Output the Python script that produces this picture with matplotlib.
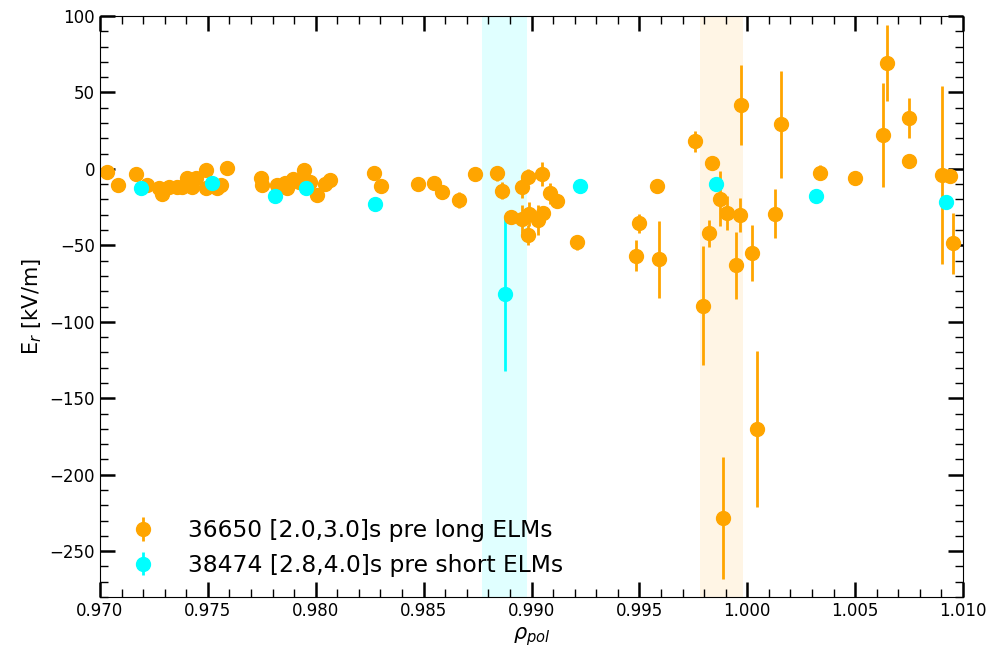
import matplotlib
matplotlib.use("Agg")
import matplotlib.pyplot as plt
from matplotlib.ticker import MultipleLocator

# 36650 [2.0,3.0]s pre long ELMs
rho_long = [0.97034, 0.97085, 0.97167, 0.97216, 0.97275, 0.97288, 0.97320, 0.97355,
            0.97381, 0.97401, 0.97427, 0.97445, 0.97491, 0.97493, 0.97540, 0.97560,
            0.97587, 0.97744, 0.97753, 0.97821, 0.97857, 0.97865, 0.97896, 0.97922,
            0.97947, 0.97973, 0.98008, 0.98043, 0.98066, 0.98271, 0.98302, 0.98475,
            0.98548, 0.98585, 0.98662, 0.98738, 0.98838, 0.98861, 0.98907, 0.98958,
            0.98958, 0.98985, 0.98988, 0.98985, 0.99029, 0.99055, 0.99049, 0.99085,
            0.99116, 0.99209, 0.99482, 0.99496, 0.99582, 0.99591, 0.99758, 0.99793,
            0.99822, 0.99838, 0.99873, 0.99889, 0.99904, 0.99950, 0.99966, 0.99970,
            1.00024, 1.00046, 1.00130, 1.00157, 1.00337, 1.00499, 1.00630, 1.00646,
            1.00750, 1.00750, 1.00904, 1.00940, 1.00955]
er_long = [-1.8, -10.5, -3.5, -10.5, -12.7, -16.6, -11.6, -11.6,
           -11.6, -5.8, -11.6, -5.8, -0.7, -12.7, -12.7, -10.5,
           0.4, -6.2, -10.5, -10.5, -9.0, -12.7, -6.8, -8.3,
           -0.7, -8.3, -17.1, -9.9, -7.3, -2.9, -11.2, -10.0,
           -9.0, -14.9, -20.3, -3.5, -2.9, -14.3, -31.3, -32.8,
           -12.0, -5.1, -29.4, -43.2, -33.4, -28.6, -3.5, -16.0,
           -20.8, -48.0, -56.8, -35.6, -11.2, -59.1, 18.0, -89.4,
           -42.1, 3.6, -19.6, -228.3, -28.9, -63.0, -30.0, 41.8,
           -54.9, -170.0, -29.2, 29.2, -2.4, -6.2, 22.0, 69.1,
           33.1, 5.0, -4.0, -4.4, -48.7]
err_long = [1, 1, 1, 1, 1, 1, 1, 1,
            1, 1, 1, 1, 1, 1, 1, 1,
            1, 1, 1, 1, 1, 1, 1, 1,
            1, 1, 1, 1, 1, 1, 1, 1,
            1, 1, 5, 1, 5, 5.5, 1, 9,
            7, 5, 8, 6.5, 10, 1, 8, 7,
            4, 5, 10, 6, 2.5, 25, 7, 39,
            9, 1, 18, 40, 11, 22, 11, 26,
            18.5, 51, 16, 35, 5, 1, 34, 25,
            13, 1, 58, 1, 20]

# 38474 [2.8,4.0]s pre short ELMs
rho_short = [0.97190, 0.97517, 0.97811, 0.97953, 0.98274, 0.98877, 0.99224,
             0.99853, 1.00317, 1.00921]
er_short = [-12.7, -9.0, -17.7, -12.7, -23.0, -82.0, -11.2, -9.9, -17.9, -21.4]
err_short = [1, 1, 1, 1, 1, 50, 1, 1, 1, 1]

# separatrix ranges
band_short = (0.9877, 0.9898)
band_long = (0.9978, 0.9998)

fig = plt.figure(figsize=(9.92, 6.51), dpi=100)
ax = fig.add_axes([0.1008, 0.0829, 0.870, 0.8925])

ax.axvspan(*band_short, color='cyan', alpha=0.12, lw=0)
ax.axvspan(*band_long, color='orange', alpha=0.1, lw=0)

ax.errorbar(rho_long, er_long, yerr=err_long, fmt='o', color='orange',
            ms=10, elinewidth=2, label='36650 [2.0,3.0]s pre long ELMs')
ax.errorbar(rho_short, er_short, yerr=err_short, fmt='o', color='cyan',
            ms=10, elinewidth=2, label='38474 [2.8,4.0]s pre short ELMs')

ax.set_xlim(0.970, 1.010)
ax.set_ylim(-280, 100)
ax.xaxis.set_major_locator(MultipleLocator(0.005))
ax.xaxis.set_minor_locator(MultipleLocator(0.001))
ax.yaxis.set_major_locator(MultipleLocator(50))
ax.yaxis.set_minor_locator(MultipleLocator(10))
ax.xaxis.set_major_formatter(plt.FormatStrFormatter('%.3f'))

ax.tick_params(which='both', direction='in', top=True, right=True, labelsize=12)
ax.tick_params(which='major', length=11, width=1.8)
ax.tick_params(which='minor', length=6, width=1)

ax.set_xlabel(r'$\rho_{pol}$', fontsize=15)
ax.set_ylabel(r'E$_r$ [kV/m]', fontsize=15)

ax.legend(loc='lower left', frameon=False, fontsize=16.8, borderaxespad=0.46,
          handletextpad=0.9)

fig.savefig('out.png', dpi=100)
